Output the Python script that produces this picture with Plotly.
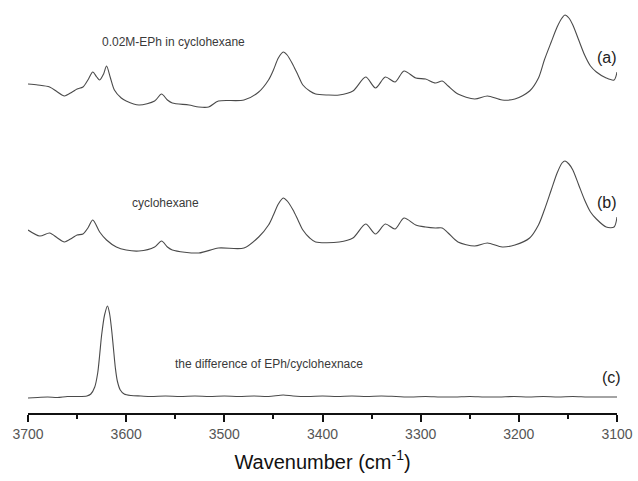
import plotly.graph_objects as go

# ---- data (wavenumber in cm^-1, intensity in a.u., each spectrum baseline-relative) ----
wn_a = [3700, 3690, 3678, 3670, 3663, 3655, 3650, 3644, 3639, 3634, 3630, 3627, 3623, 3620,
        3616, 3612, 3605, 3600, 3587, 3571, 3564, 3558, 3553, 3536, 3526, 3516, 3506, 3480,
        3465, 3455, 3450, 3445, 3440, 3436, 3430, 3425, 3420, 3413, 3407, 3395, 3383, 3369,
        3356, 3346, 3336, 3326, 3317, 3305, 3295, 3285, 3278, 3272, 3262, 3245, 3232, 3217,
        3204, 3189, 3180, 3174, 3167, 3161, 3156, 3153, 3149, 3145, 3139, 3133, 3127, 3121,
        3111, 3103, 3100]
int_a = [0.29, 0.28, 0.26, 0.21, 0.17, 0.21, 0.24, 0.26, 0.33, 0.41, 0.36, 0.33, 0.39, 0.47,
         0.35, 0.23, 0.15, 0.12, 0.08, 0.12, 0.19, 0.13, 0.10, 0.08, 0.06, 0.06, 0.12, 0.13,
         0.21, 0.33, 0.43, 0.55, 0.61, 0.58, 0.48, 0.38, 0.28, 0.22, 0.19, 0.18, 0.18, 0.22,
         0.36, 0.25, 0.36, 0.31, 0.42, 0.35, 0.34, 0.30, 0.32, 0.27, 0.19, 0.14, 0.17, 0.13,
         0.14, 0.22, 0.35, 0.53, 0.71, 0.86, 0.95, 0.98, 0.95, 0.88, 0.73, 0.58, 0.47, 0.41,
         0.35, 0.33, 0.41]

wn_b = [3700, 3688, 3678, 3670, 3663, 3655, 3650, 3644, 3639, 3634, 3627, 3620, 3610, 3600,
        3587, 3571, 3564, 3558, 3553, 3526, 3506, 3480, 3465, 3455, 3450, 3445, 3440, 3436,
        3430, 3425, 3420, 3413, 3407, 3383, 3369, 3356, 3346, 3336, 3326, 3317, 3305, 3295,
        3285, 3278, 3272, 3262, 3245, 3232, 3217, 3204, 3189, 3180, 3174, 3167, 3161, 3156,
        3153, 3149, 3145, 3139, 3133, 3127, 3121, 3111, 3103, 3100]
int_b = [0.28, 0.22, 0.25, 0.20, 0.16, 0.20, 0.23, 0.24, 0.30, 0.38, 0.26, 0.18, 0.11, 0.08,
         0.07, 0.11, 0.17, 0.11, 0.08, 0.05, 0.10, 0.10, 0.21, 0.33, 0.43, 0.54, 0.60, 0.57,
         0.48, 0.38, 0.28, 0.20, 0.16, 0.16, 0.20, 0.34, 0.24, 0.34, 0.29, 0.40, 0.33, 0.31,
         0.30, 0.30, 0.25, 0.16, 0.12, 0.15, 0.11, 0.13, 0.20, 0.33, 0.48, 0.68, 0.85, 0.95,
         0.97, 0.94, 0.88, 0.73, 0.58, 0.46, 0.39, 0.31, 0.31, 0.41]

wn_c = [3700, 3690, 3680, 3670, 3660, 3650, 3640, 3636, 3632, 3629, 3627, 3625, 3622, 3619,
        3617, 3615, 3613, 3611, 3609, 3606, 3602, 3595, 3585, 3575, 3560, 3545, 3530, 3515,
        3500, 3485, 3470, 3455, 3440, 3430, 3415, 3400, 3385, 3370, 3355, 3340, 3325, 3310,
        3295, 3280, 3265, 3250, 3235, 3220, 3205, 3190, 3175, 3160, 3145, 3130, 3115, 3100]
int_c = [0.150, 0.155, 0.160, 0.155, 0.165, 0.165, 0.170, 0.190, 0.260, 0.400, 0.580, 0.780,
         0.980, 1.070, 1.000, 0.850, 0.650, 0.450, 0.320, 0.230, 0.190, 0.175, 0.170, 0.165,
         0.170, 0.165, 0.170, 0.165, 0.170, 0.165, 0.170, 0.165, 0.180, 0.170, 0.165, 0.170,
         0.165, 0.170, 0.165, 0.170, 0.165, 0.160, 0.165, 0.160, 0.160, 0.165, 0.160, 0.160,
         0.165, 0.160, 0.165, 0.160, 0.165, 0.160, 0.160, 0.160]

offsets = {"a": 3.00, "b": 1.55, "c": 0.0}

x_ticks = [3700, 3600, 3500, 3400, 3300, 3200, 3100]
x_tick_labels = ["3700", "3600", "3500", "3400", "3300", "3200", "3100"]

line_color = "#4a4a4a"

fig = go.Figure()
for wn, it, key in [(wn_a, int_a, "a"), (wn_b, int_b, "b"), (wn_c, int_c, "c")]:
    fig.add_trace(go.Scatter(
        x=wn, y=[v + offsets[key] for v in it], mode="lines",
        line=dict(color=line_color, width=1.1, shape="spline", smoothing=0.8),
        showlegend=False, hoverinfo="skip"))

label_font = dict(family="Liberation Sans, Arial, sans-serif", size=12, color="#3a3a3a")
tag_font = dict(family="Liberation Sans, Arial, sans-serif", size=16, color="#222222")
annotations = [
    dict(x=3552, y=3.71, text="0.02M-EPh in cyclohexane", font=label_font),
    dict(x=3560, y=2.10, text="cyclohexane", font=label_font),
    dict(x=3455, y=0.49, text="the difference of EPh/cyclohexnace", font=label_font),
    dict(x=3110, y=3.56, text="(a)", font=tag_font),
    dict(x=3110, y=2.11, text="(b)", font=tag_font),
    dict(x=3106, y=0.36, text="(c)", font=tag_font),
]
for a in annotations:
    a.update(xref="x", yref="y", showarrow=False, xanchor="center", yanchor="middle")

fig.update_layout(
    width=638, height=481,
    margin=dict(l=28, r=17, t=5, b=68),
    paper_bgcolor="white", plot_bgcolor="white",
    annotations=annotations,
    xaxis=dict(
        range=[3700, 3100], tickmode="array", tickvals=x_ticks, ticktext=x_tick_labels,
        showgrid=False, zeroline=False, showline=True, linecolor="#111111", linewidth=2,
        ticks="outside", ticklen=7, tickwidth=2, tickcolor="#111111",
        minor=dict(dtick=50, ticks="outside", ticklen=4, tickwidth=2, tickcolor="#111111"),
        tickfont=dict(family="Liberation Sans, Arial, sans-serif", size=14, color="#555555"),
        title=dict(text="Wavenumber (cm<sup>-1</sup>)", standoff=14,
                   font=dict(family="Liberation Sans, Arial, sans-serif", size=20, color="#111111")),
    ),
    yaxis=dict(range=[0, 4.08], visible=False, showgrid=False, zeroline=False),
)

fig.write_html("out.html")
